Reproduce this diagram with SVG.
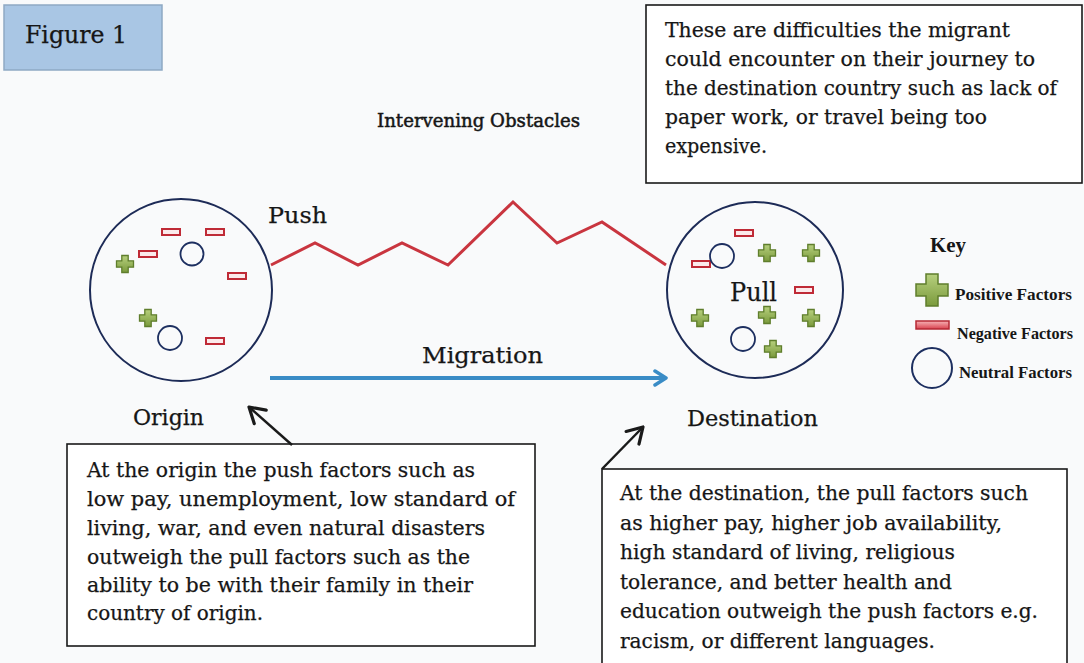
<svg xmlns="http://www.w3.org/2000/svg" xmlns:xlink="http://www.w3.org/1999/xlink" width="1084" height="663" viewBox="0 0 1084 663">
<style>
  .t { font-family: "DejaVu Serif", "Liberation Serif", serif; fill: #161616; stroke: #161616; stroke-width: 0.25; }
  .body { font-size: 20px; }
  .key { font-family: "Liberation Serif", "DejaVu Serif", serif; font-weight: bold; fill: #161616; font-size: 17.5px; }
  .keyh { font-family: "Liberation Serif", "DejaVu Serif", serif; font-weight: bold; fill: #161616; font-size: 21px; }
  .box { fill: #ffffff; stroke: #1a1a1a; stroke-width: 1.6; }
  .big { fill: none; stroke: #1d2b57; stroke-width: 2; }
  .neu { fill: none; stroke: #1d2f60; stroke-width: 1.8; }
  .neg { fill: #fbeaeb; stroke: #bf2a36; stroke-width: 2; }
  .pos { fill: url(#gp); stroke: #5f7e2c; stroke-width: 1.3; }
</style>
<defs>
  <linearGradient id="gp" x1="0" y1="0" x2="0" y2="1">
    <stop offset="0" stop-color="#b7d07e"/>
    <stop offset="1" stop-color="#7a9a3c"/>
  </linearGradient>
  <linearGradient id="gn" x1="0" y1="0" x2="0" y2="1">
    <stop offset="0" stop-color="#f6b3b6"/>
    <stop offset="1" stop-color="#d9414e"/>
  </linearGradient>
  <path id="plus" d="M-3.2,-8.5 H3.2 V-3.2 H8.5 V3.2 H3.2 V8.5 H-3.2 V3.2 H-8.5 V-3.2 H-3.2 Z"/>
  <rect id="minus" x="-9" y="-3" width="18" height="6"/>
  <marker id="ab" viewBox="-14 -10 16 20" markerWidth="16" markerHeight="20" refX="0" refY="0" markerUnits="userSpaceOnUse" orient="auto">
    <path d="M-11,-7 L0,0 L-11,7" fill="none" stroke="#3a8cc6" stroke-width="3.5" stroke-linecap="round" stroke-linejoin="round"/>
  </marker>
  <marker id="ak" viewBox="-18 -11 20 22" markerWidth="20" markerHeight="22" refX="0" refY="0" markerUnits="userSpaceOnUse" orient="auto">
    <path d="M-15,-9 L0,0 L-15,9" fill="none" stroke="#1a1a1a" stroke-width="3.2" stroke-linecap="round" stroke-linejoin="round"/>
  </marker>
</defs>

<rect x="0" y="0" width="1084" height="663" fill="#f9fafb"/>

<g id="figure-label">
  <rect x="4" y="5" width="158" height="65" fill="#a9c6e4" stroke="#8ea9c4" stroke-width="1.5"/>
  <text class="t" x="25" y="43" font-size="24" textLength="102" lengthAdjust="spacingAndGlyphs">Figure 1</text>
</g>

<g id="obstacles-note">
  <rect class="box" x="646" y="5" width="436" height="178"/>
  <text class="t body" x="665" y="37" textLength="345" lengthAdjust="spacingAndGlyphs">These are difficulties the migrant</text>
  <text class="t body" x="665" y="66" textLength="370" lengthAdjust="spacingAndGlyphs">could encounter on their journey to</text>
  <text class="t body" x="665" y="95" textLength="392" lengthAdjust="spacingAndGlyphs">the destination country such as lack of</text>
  <text class="t body" x="665" y="124" textLength="322" lengthAdjust="spacingAndGlyphs">paper work, or travel being too</text>
  <text class="t body" x="665" y="153" textLength="102" lengthAdjust="spacingAndGlyphs">expensive.</text>
</g>

<g id="intervening-label">
  <text class="t" x="377" y="127" font-size="18" textLength="203" lengthAdjust="spacingAndGlyphs" style="stroke-width:0.5">Intervening Obstacles</text>
</g>

<g id="origin">
  <circle class="big" cx="181" cy="290" r="91"/>
  <use href="#minus" class="neg" x="171" y="232"/>
  <use href="#minus" class="neg" x="215" y="232"/>
  <use href="#minus" class="neg" x="148" y="254"/>
  <use href="#minus" class="neg" x="237" y="276"/>
  <use href="#minus" class="neg" x="215" y="341"/>
  <circle class="neu" cx="192" cy="254" r="11.5"/>
  <circle class="neu" cx="170" cy="338" r="12"/>
  <use href="#plus" class="pos" x="125" y="264"/>
  <use href="#plus" class="pos" x="148" y="318"/>
  <text class="t" x="133" y="425" font-size="23" textLength="71" lengthAdjust="spacingAndGlyphs">Origin</text>
</g>

<g id="destination">
  <circle class="big" cx="755" cy="290" r="88"/>
  <use href="#minus" class="neg" x="744" y="233"/>
  <use href="#minus" class="neg" x="701" y="264"/>
  <use href="#minus" class="neg" x="804" y="290"/>
  <circle class="neu" cx="722" cy="256" r="12"/>
  <circle class="neu" cx="743" cy="339" r="12"/>
  <use href="#plus" class="pos" x="767" y="253"/>
  <use href="#plus" class="pos" x="811" y="253"/>
  <use href="#plus" class="pos" x="700" y="318"/>
  <use href="#plus" class="pos" x="767" y="315"/>
  <use href="#plus" class="pos" x="811" y="318"/>
  <use href="#plus" class="pos" x="773" y="349"/>
  <text class="t" x="730" y="301" font-size="26" textLength="47" lengthAdjust="spacingAndGlyphs">Pull</text>
  <text class="t" x="687" y="426" font-size="23" textLength="131" lengthAdjust="spacingAndGlyphs">Destination</text>
</g>

<g id="key">
  <text class="keyh" x="930" y="252" textLength="36" lengthAdjust="spacingAndGlyphs">Key</text>
  <path d="M926,274 H938 V284 H948 V296 H938 V306 H926 V296 H916 V284 H926 Z" fill="url(#gp)" stroke="#5f7e2c" stroke-width="1.5"/>
  <text class="key" x="955" y="300" textLength="117" lengthAdjust="spacingAndGlyphs">Positive Factors</text>
  <rect x="916" y="321" width="33" height="8" fill="url(#gn)" stroke="#b52834" stroke-width="1.5"/>
  <text class="key" x="957" y="339" textLength="116" lengthAdjust="spacingAndGlyphs" style="font-size:16.5px">Negative Factors</text>
  <circle cx="932" cy="368" r="20" fill="none" stroke="#1d2f60" stroke-width="2"/>
  <text class="key" x="959" y="378" textLength="113" lengthAdjust="spacingAndGlyphs">Neutral Factors</text>
</g>

<g id="origin-note">
  <rect class="box" x="67" y="444" width="468" height="202"/>
  <text class="t body" x="87" y="477" textLength="388" lengthAdjust="spacingAndGlyphs">At the origin the push factors such as</text>
  <text class="t body" x="87" y="506" textLength="428" lengthAdjust="spacingAndGlyphs">low pay, unemployment, low standard of</text>
  <text class="t body" x="87" y="535" textLength="398" lengthAdjust="spacingAndGlyphs">living, war, and even natural disasters</text>
  <text class="t body" x="87" y="564" textLength="383" lengthAdjust="spacingAndGlyphs">outweigh the pull factors such as the</text>
  <text class="t body" x="87" y="592" textLength="386" lengthAdjust="spacingAndGlyphs">ability to be with their family in their</text>
  <text class="t body" x="87" y="620" textLength="176" lengthAdjust="spacingAndGlyphs">country of origin.</text>
</g>

<g id="destination-note">
  <rect class="box" x="602" y="469" width="465" height="200"/>
  <text class="t body" x="620" y="500" textLength="408" lengthAdjust="spacingAndGlyphs">At the destination, the pull factors such</text>
  <text class="t body" x="620" y="530" textLength="382" lengthAdjust="spacingAndGlyphs">as higher pay, higher job availability,</text>
  <text class="t body" x="620" y="559" textLength="335" lengthAdjust="spacingAndGlyphs">high standard of living, religious</text>
  <text class="t body" x="620" y="589" textLength="332" lengthAdjust="spacingAndGlyphs">tolerance, and better health and</text>
  <text class="t body" x="620" y="618" textLength="418" lengthAdjust="spacingAndGlyphs">education outweigh the push factors e.g.</text>
  <text class="t body" x="620" y="648" textLength="315" lengthAdjust="spacingAndGlyphs">racism, or different languages.</text>
</g>

<g id="connectors">
  <polyline points="271,265 315,243 358,265 402,243 448,265 513,202 557,243 602,222 666,265" fill="none" stroke="#c9353f" stroke-width="3" stroke-linejoin="miter"/>
  <text class="t" x="268" y="223" font-size="23" textLength="59" lengthAdjust="spacingAndGlyphs">Push</text>
  <line x1="270" y1="378" x2="666" y2="378" stroke="#3a8cc6" stroke-width="4" marker-end="url(#ab)"/>
  <text class="t" x="422" y="363" font-size="23" textLength="121" lengthAdjust="spacingAndGlyphs">Migration</text>
  <line x1="292" y1="445" x2="249" y2="407" stroke="#1a1a1a" stroke-width="2.5" marker-end="url(#ak)"/>
  <line x1="602" y1="469" x2="643" y2="427" stroke="#1a1a1a" stroke-width="2.5" marker-end="url(#ak)"/>
</g>
</svg>
